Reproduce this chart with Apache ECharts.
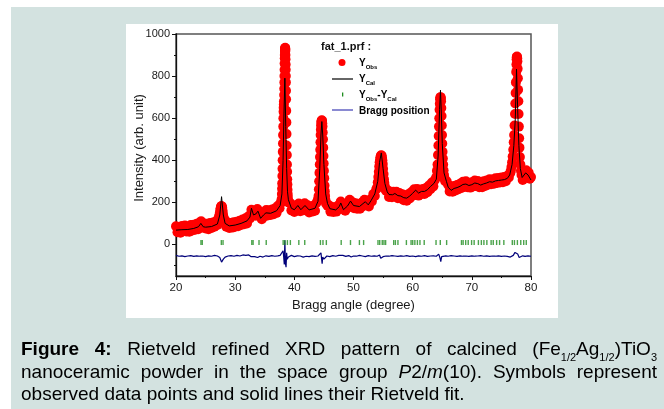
<!DOCTYPE html>
<html><head><meta charset="utf-8">
<script src="https://cdn.jsdelivr.net/npm/echarts@6/dist/echarts.min.js"></script>
<style>html,body{margin:0;padding:0;background:#fff}#c{width:664px;height:409px}</style>
</head><body><div id="c"></div>
<script>
// ---------- DATA ----------
const xTickLabels = [20, 30, 40, 50, 60, 70, 80];
const yTickLabels = [0, 200, 400, 600, 800, 1000];
const yMinorTicks = [-100, 100, 300, 500, 700, 900];

const obsData = [
[20,86],[20.25,58],[20.5,80],[20.75,56],[21,88],[21.25,66],[21.5,90],[21.75,62],[22,84],[22.25,60],[22.5,92],[22.75,66],[23,94],[23.25,70],[23.5,98],[23.75,72],[24,104],[24.25,110],[24.5,80],[24.75,100],[25,76],[25.25,98],[25.5,72],[25.75,102],[26,78],[26.25,104],[26.5,84],[26.75,110],[27,92],
[27.2,124],[27.3,132],[27.35,140],[27.42,152],[27.5,165],[27.55,172],[27.6,178],[27.65,181],[27.7,182],[27.75,179],[27.8,175],[27.85,163],[27.9,150],[27.97,137],[28.05,125],[28.15,118],
[28.25,116],[28.5,84],[28.75,104],[29,78],[29.25,102],[29.5,80],[29.75,106],[30,84],[30.25,108],[30.5,86],[30.75,112],[31,92],[31.25,118],[31.5,96],[31.75,124],[32,100],[32.25,134],[32.5,124],[32.75,165],[33,138],[33.25,156],[33.5,136],[33.75,168],[34,140],[34.25,142],[34.5,120],[34.75,152],[35,134],[35.25,164],[35.5,138],[35.75,162],[36,140],[36.25,166],[36.5,144],[36.75,172],[37,150],[37.25,184],[37.5,172],[37.65,196],
[37.8,200],[37.85,215],[37.9,240],[37.93,265],[37.95,290],[37.98,325],[38,360],[38.03,400],[38.05,440],[38.08,480],[38.1,520],[38.13,560],[38.15,600],[38.18,630],[38.2,650],[38.23,665],[38.25,680],[38.28,710],[38.3,740],[38.32,770],[38.33,800],[38.35,830],[38.36,860],[38.38,885],[38.39,900],[38.41,915],[38.42,925],[38.44,932],[38.45,935],[38.47,928],[38.48,920],[38.5,900],[38.51,880],[38.53,855],[38.54,830],[38.56,800],[38.57,770],[38.59,730],[38.6,690],[38.63,635],[38.65,580],[38.68,525],[38.7,470],[38.73,425],[38.75,380],[38.78,345],[38.8,310],[38.83,285],[38.85,260],[38.88,240],[38.9,225],[38.95,210],[39,200],
[39.25,198],[39.5,162],[39.75,182],[40,154],[40.25,186],[40.5,172],[40.75,194],[41,158],[41.25,182],[41.5,162],[41.75,196],[42,168],[42.25,186],[42.5,152],[42.75,180],[43,156],[43.25,184],[43.5,160],[43.75,198],[44,212],
[44.05,215],[44.1,230],[44.15,262],[44.2,300],[44.25,340],[44.3,380],[44.34,415],[44.38,450],[44.42,485],[44.45,520],[44.49,545],[44.52,565],[44.56,578],[44.6,585],[44.64,590],[44.68,588],[44.72,576],[44.76,560],[44.8,532],[44.84,500],[44.88,460],[44.92,420],[44.96,385],[45,350],[45.05,315],[45.1,280],[45.15,252],[45.2,230],[45.27,210],[45.35,195],
[45.6,184],[45.85,186],[46.1,156],[46.35,178],[46.6,154],[46.85,176],[47.1,156],[47.35,184],[47.6,168],[47.85,204],[48.1,170],[48.35,176],[48.6,160],[48.85,192],[49.1,176],[49.35,212],[49.6,190],[49.85,200],[50.1,172],[50.35,196],[50.6,170],[50.85,192],[51.1,170],[51.35,198],[51.6,182],[51.85,212],[52.1,190],[52.35,204],[52.6,180],[52.85,214],[53.1,204],[53.35,240],[53.6,230],[53.85,262],
[54,270],[54.1,295],[54.2,320],[54.28,345],[54.35,370],[54.42,390],[54.5,405],[54.56,414],[54.62,420],[54.68,424],[54.75,422],[54.82,412],[54.88,400],[54.94,382],[55,360],[55.08,335],[55.15,310],[55.22,292],[55.3,275],[55.4,263],[55.5,255],
[55.75,258],[56,226],[56.25,248],[56.5,224],[56.75,250],[57,232],[57.25,250],[57.5,220],[57.75,244],[58,218],[58.25,238],[58.5,210],[58.75,232],[59,208],[59.25,238],[59.5,218],[59.75,248],[60,232],[60.25,262],[60.5,246],[60.75,264],[61,232],[61.25,260],[61.5,240],[61.75,264],[62,240],[62.25,268],[62.5,248],[62.75,280],[63,262],[63.25,294],[63.5,276],[63.75,306],
[64,320],[64.1,350],[64.2,380],[64.28,425],[64.35,470],[64.4,515],[64.45,560],[64.5,600],[64.55,640],[64.59,668],[64.63,690],[64.68,698],[64.72,700],[64.76,694],[64.8,680],[64.84,648],[64.88,610],[64.92,565],[64.96,520],[65,480],[65.05,440],[65.1,408],[65.15,380],[65.22,352],[65.3,330],[65.4,312],[65.5,300],
[65.75,300],[66,284],[66.25,252],[66.5,270],[66.75,250],[67,278],[67.25,256],[67.5,282],[67.75,262],[68,288],[68.25,268],[68.5,298],[68.75,274],[69,300],[69.25,272],[69.5,292],[69.75,270],[70,296],[70.25,276],[70.5,304],[70.75,278],[71,302],[71.25,272],[71.5,294],[71.75,272],[72,300],[72.25,278],[72.5,304],[72.75,284],[73,310],[73.25,286],[73.5,308],[73.75,288],[74,314],[74.25,292],[74.5,316],[74.75,294],[75,318],[75.25,296],[75.5,320],[75.75,300],[76,326],[76.25,318],
[76.5,340],[76.6,350],[76.7,368],[76.8,390],[76.9,418],[77,450],[77.08,485],[77.15,520],[77.22,565],[77.3,620],[77.35,670],[77.4,720],[77.45,770],[77.5,820],[77.54,855],[77.57,880],[77.6,890],[77.63,893],[77.67,885],[77.7,870],[77.74,835],[77.78,790],[77.82,735],[77.86,680],[77.9,620],[77.95,560],[78,505],[78.05,460],[78.12,415],[78.2,380],[78.3,350],[78.4,330],
[78.6,306],[78.8,334],[79,326],[79.2,352],[79.4,324],[79.6,342],[79.8,312],[80,320]
];

const calcData = [
[20,68],[21,70],[22,71],[23,76],[23.8,84],[24.2,100],[24.6,84],[25,82],[26,85],[27,97],[27.4,140],[27.7,227],[28,140],[28.3,100],[29,88],[30,92],[31,100],[32,112],[32.5,130],[32.75,172],[33.1,140],[33.5,145],[33.85,158],[34.3,124],[34.8,140],[35.2,150],[36,148],[37,160],[37.6,185],[37.9,240],[38.1,400],[38.25,620],[38.4,790],[38.55,560],[38.7,360],[38.85,250],[39,212],[39.5,172],[40,165],[40.6,185],[41.1,165],[41.8,185],[42.5,164],[43.5,172],[44,205],[44.3,360],[44.5,520],[44.65,584],[44.8,520],[45,380],[45.3,240],[45.6,195],[46,170],[47,164],[47.6,180],[47.85,197],[48.3,165],[49,183],[49.5,206],[50,185],[51,180],[52,203],[52.5,188],[53,210],[53.6,240],[54.1,300],[54.4,390],[54.7,435],[55,360],[55.3,290],[55.7,250],[56,237],[56.6,236],[57,242],[57.5,232],[58,230],[58.5,222],[59,220],[59.5,230],[60,243],[60.5,258],[61,244],[61.5,252],[62,252],[62.5,260],[63,275],[63.6,290],[64,310],[64.3,420],[64.55,640],[64.7,733],[64.85,620],[65,480],[65.3,340],[65.7,300],[66,272],[66.5,257],[67,266],[67.5,270],[68,276],[68.5,285],[69,287],[69.5,280],[70,284],[70.5,292],[71,289],[71.5,282],[72,288],[72.5,292],[73,298],[73.5,296],[74,302],[74.5,304],[75,306],[75.5,308],[76,314],[76.4,330],[76.8,380],[77.1,470],[77.35,600],[77.55,833],[77.75,640],[77.95,470],[78.2,360],[78.5,318],[78.8,325],[79.1,340],[79.5,330],[80,306]
];

const diffData = [
[20,-52],[20.5,-56],[21,-54],[21.5,-58],[22,-55],[22.5,-53],[23,-57],[23.5,-54],[24,-56],[24.2,-62],[24.5,-55],[25,-58],[25.5,-54],[26,-56],[26.5,-52],[27,-55],[27.4,-62],[27.7,-84],[28,-70],[28.3,-60],[28.8,-55],[29.3,-53],[29.8,-56],[30.3,-52],[30.8,-55],[31.3,-50],[31.8,-52],[32.3,-50],[32.7,-58],[33,-66],[33.3,-58],[33.8,-62],[34.2,-56],[34.7,-60],[35.2,-54],[35.7,-57],[36.2,-53],[36.7,-56],[37.2,-54],[37.6,-52],[37.9,-45],[38.1,-30],[38.2,-60],[38.3,-95],[38.4,20],[38.5,-90],[38.6,-108],[38.7,-40],[38.8,-70],[39,-60],[39.5,-52],[40,-58],[40.5,-54],[40.7,-62],[41,-55],[41.5,-60],[42,-56],[42.5,-58],[43,-54],[43.5,-57],[44,-55],[44.3,-62],[44.5,-40],[44.6,-32],[44.7,-92],[44.8,-60],[45,-70],[45.5,-55],[46,-58],[46.5,-53],[47,-56],[47.5,-52],[47.8,-60],[48.2,-52],[48.7,-57],[49.2,-53],[49.6,-60],[50,-55],[50.5,-56],[51,-52],[51.5,-55],[52,-58],[52.5,-53],[53,-56],[53.5,-54],[54,-56],[54.4,-50],[54.6,-66],[54.8,-72],[55,-58],[55.5,-55],[56,-56],[56.5,-53],[57,-55],[57.5,-57],[58,-54],[58.5,-56],[59,-53],[59.5,-57],[60,-55],[60.5,-58],[61,-54],[61.5,-56],[62,-53],[62.5,-57],[63,-55],[63.5,-54],[64,-56],[64.4,-46],[64.6,-62],[64.75,-82],[64.9,-58],[65.2,-62],[65.6,-54],[66,-56],[66.5,-53],[67,-55],[67.5,-57],[68,-54],[68.5,-56],[69,-55],[69.5,-57],[70,-54],[70.5,-56],[71,-55],[71.5,-53],[72,-56],[72.5,-54],[73,-57],[73.5,-55],[74,-56],[74.5,-54],[75,-57],[75.5,-55],[76,-57],[76.5,-60],[77,-52],[77.3,-38],[77.55,-32],[77.75,-45],[78,-62],[78.3,-58],[78.6,-54],[79,-57],[79.5,-54],[80,-56]
];

const braggPositions = [24.22,24.44,27.66,27.95,32.81,33.03,34.03,35.25,38.11,38.40,38.83,39.33,40.76,41.76,44.41,44.84,45.41,47.92,49.49,51.0,51.71,54.14,54.43,54.86,55.15,55.43,56.79,57.08,57.51,58.94,59.73,60.01,60.37,60.80,61.23,61.95,63.95,64.67,65.74,68.25,68.53,68.96,69.39,69.96,70.39,71.11,71.61,72.04,72.54,73.26,73.62,74.19,74.69,75.41,76.84,77.2,77.7,78.27,78.77,79.2];
const braggLevel = 9;

const captionLines = [
  [[['Figure','b']],[['4:','b']],[['Rietveld','n']],[['refined','n']],[['XRD','n']],[['pattern','n']],[['of','n']],[['calcined','n']],[['(Fe','n'],['1/2','s'],['Ag','n'],['1/2','s'],[')TiO','n'],['3','s']]],
  [[['nanoceramic','n']],[['powder','n']],[['in','n']],[['the','n']],[['space','n']],[['group','n']],[['P','i'],['2/','n'],['m','i'],['(10).','n']],[['Symbols','n']],[['represent','n']]],
  [[['observed','n']],[['data','n']],[['points','n']],[['and','n']],[['solid','n']],[['lines','n']],[['their','n']],[['Rietveld','n']],[['fit.','n']]]
];

// ---------- BUILD ----------
const FF = '"Liberation Sans", Arial, sans-serif';
const capSize = 19, capSub = 11;
const capRich = {
  n: {fontFamily: FF, fontSize: capSize, lineHeight: 26, color: '#1a1a1a', verticalAlign: 'middle'},
  b: {fontFamily: FF, fontSize: capSize, fontWeight: 'bold', lineHeight: 26, color: '#1a1a1a', verticalAlign: 'middle'},
  i: {fontFamily: FF, fontSize: capSize, fontStyle: 'italic', lineHeight: 26, color: '#1a1a1a', verticalAlign: 'middle'},
  s: {fontFamily: FF, fontSize: capSub, lineHeight: 12, color: '#1a1a1a', verticalAlign: 'bottom'}
};
const mctx = document.createElement('canvas').getContext('2d');
function fontOf(k) {
  const r = capRich[k];
  return (r.fontStyle || 'normal') + ' ' + (r.fontWeight || 'normal') + ' ' + r.fontSize + 'px ' + FF;
}
function wordWidth(frags) {
  let w = 0;
  frags.forEach(([t, k]) => { mctx.font = fontOf(k); w += mctx.measureText(t).width; });
  return w;
}
const capX0 = 21, capX1 = 657, capY = [350, 373, 395];
const captionGraphics = [];
captionLines.forEach((words, li) => {
  const widths = words.map(wordWidth);
  const total = widths.reduce((a, b) => a + b, 0);
  mctx.font = fontOf('n');
  const gap = li < 2 ? (capX1 - capX0 - total) / (words.length - 1) : mctx.measureText(' ').width;
  let x = capX0;
  words.forEach((frags, wi) => {
    captionGraphics.push({
      type: 'text', x: x, y: capY[li], silent: true,
      style: {text: frags.map(([t, k]) => '{' + k + '|' + t + '}').join(''), rich: capRich, verticalAlign: 'middle', align: 'left'}
    });
    x += widths[wi] + gap;
  });
});

const legRich = {
  tr: {fontFamily: FF, fontSize: 10, fontWeight: 'bold', color: '#ff0000', lineHeight: 14, verticalAlign: 'middle'},
  sr: {fontFamily: FF, fontSize: 6, fontWeight: 'bold', color: '#ff0000', lineHeight: 7, verticalAlign: 'bottom'},
  tk: {fontFamily: FF, fontSize: 10, fontWeight: 'bold', color: '#111', lineHeight: 14, verticalAlign: 'middle'},
  sk: {fontFamily: FF, fontSize: 6, fontWeight: 'bold', color: '#111', lineHeight: 7, verticalAlign: 'bottom'},
  tb: {fontFamily: FF, fontSize: 10, fontWeight: 'bold', color: '#2222aa', lineHeight: 14, verticalAlign: 'middle'},
  sb: {fontFamily: FF, fontSize: 6, fontWeight: 'bold', color: '#2222aa', lineHeight: 7, verticalAlign: 'bottom'},
  tg: {fontFamily: FF, fontSize: 10, fontWeight: 'bold', color: '#1e8c1e', lineHeight: 14, verticalAlign: 'middle'}
};

const legendGraphics = [
  {type: 'text', x: 321, y: 47, style: {text: 'fat_1.prf :', font: 'bold 11px ' + FF, fill: '#111', verticalAlign: 'middle'}},
  {type: 'circle', shape: {cx: 342, cy: 62.5, r: 3.5}, style: {fill: '#ff0000'}},
  {type: 'text', x: 359, y: 63, style: {text: '{tr|Y}{sr|Obs}', rich: legRich, verticalAlign: 'middle'}},
  {type: 'line', shape: {x1: 332, y1: 79, x2: 353, y2: 79}, style: {stroke: '#333', lineWidth: 1.5}},
  {type: 'text', x: 359, y: 79, style: {text: '{tk|Y}{sk|Cal}', rich: legRich, verticalAlign: 'middle'}},
  {type: 'rect', shape: {x: 342, y: 92.5, width: 1.3, height: 4}, style: {fill: '#1e8c1e'}},
  {type: 'text', x: 359, y: 95.5, style: {text: '{tb|Y}{sb|Obs}{tb|-Y}{sb|Cal}', rich: legRich, verticalAlign: 'middle'}},
  {type: 'line', shape: {x1: 332, y1: 110, x2: 353, y2: 110}, style: {stroke: '#3c3cb4', lineWidth: 1.2}},
  {type: 'text', x: 359, y: 111, style: {text: '{tg|Bragg position}', rich: legRich, verticalAlign: 'middle'}}
];

const chart = echarts.init(document.getElementById('c'), null, {renderer: 'canvas'});
chart.setOption({
  animation: false,
  backgroundColor: '#ffffff',
  grid: {left: 176, right: 133, top: 34, bottom: 133, show: true, backgroundColor: 'transparent', borderColor: '#555', borderWidth: 1.5},
  xAxis: {
    type: 'value', min: 20, max: 80, interval: 10,
    name: 'Bragg angle (degree)', nameLocation: 'middle', nameGap: 20,
    nameTextStyle: {fontFamily: FF, fontSize: 13, color: '#1a1a1a'},
    axisLine: {show: true, onZero: false, lineStyle: {color: '#111', width: 1.3}},
    axisTick: {show: true, length: 4, inside: false, lineStyle: {color: '#111'}},
    minorTick: {show: true, splitNumber: 2, length: 2, lineStyle: {color: '#111'}},
    axisLabel: {fontFamily: FF, fontSize: 11.5, color: '#1a1a1a', margin: 6,
      formatter: v => xTickLabels.indexOf(v) >= 0 ? String(v) : ''},
    splitLine: {show: false}
  },
  yAxis: [{
    type: 'value', min: -150, max: 1000,
    axisLine: {show: true, onZero: false, lineStyle: {color: '#111', width: 1.3}},
    axisTick: {show: true, length: 4, customValues: yTickLabels, lineStyle: {color: '#111'}},
    axisLabel: {fontFamily: FF, fontSize: 11, color: '#1a1a1a', margin: 6, customValues: yTickLabels,
      formatter: v => String(v)},
    splitLine: {show: false}
  }, {
    type: 'value', min: -150, max: 1000, position: 'left',
    axisLine: {show: false},
    axisTick: {show: true, length: 2, customValues: yMinorTicks, lineStyle: {color: '#111'}},
    axisLabel: {show: false, customValues: yMinorTicks},
    splitLine: {show: false}
  }],
  graphic: [
    {type: 'rect', z: -100, silent: true, shape: {x: 11, y: 7, width: 653, height: 402}, style: {fill: '#d3e2e0'}},
    {type: 'rect', z: -99, silent: true, shape: {x: 126, y: 24, width: 432, height: 294}, style: {fill: '#ffffff'}},
    {type: 'text', silent: true, x: 139, y: 148, rotation: Math.PI / 2,
      style: {text: 'Intensity (arb. unit)', font: '13px ' + FF, fill: '#1a1a1a', align: 'center', verticalAlign: 'middle'}}
  ].concat(legendGraphics).concat(captionGraphics),
  series: [
    {name: 'Y_Obs', type: 'scatter', data: obsData, symbol: 'circle', symbolSize: 10,
      itemStyle: {color: '#ff0000', opacity: 1}, z: 2, silent: true},
    {name: 'Y_Cal', type: 'line', data: calcData, symbol: 'none', showSymbol: false,
      lineStyle: {color: '#000', width: 1}, z: 3, silent: true},
    {name: 'Bragg position', type: 'line', data: diffData, symbol: 'none', showSymbol: false,
      lineStyle: {color: '#00007a', width: 1.2}, z: 3, silent: true},
    {name: 'Y_Obs-Y_Cal', type: 'scatter', data: braggPositions.map(p => [p, braggLevel]),
      symbol: 'rect', symbolSize: [1.4, 5], itemStyle: {color: '#1e8c1e'}, z: 3, silent: true}
  ]
});
</script></body></html>
